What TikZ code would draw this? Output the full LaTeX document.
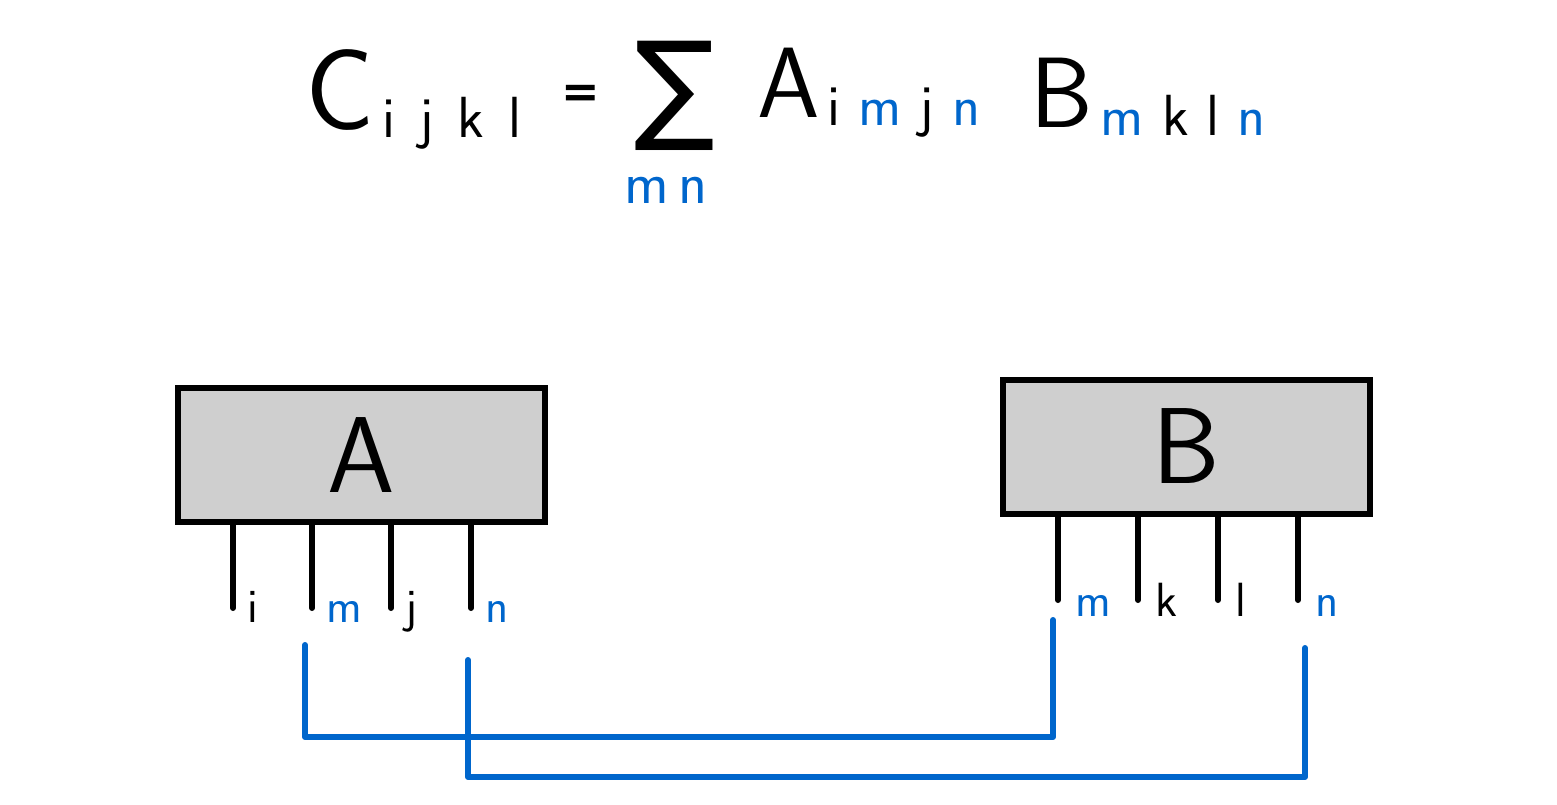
\documentclass[tikz,border=0pt]{standalone}
\usepackage{fontspec}
\newfontfamily\symbolfont{DejaVu Sans}
\usetikzlibrary{positioning}
\definecolor{wireblue}{HTML}{0066CC}
\definecolor{boxgray}{HTML}{CFCFCF}
\newcommand{\idxgap}{\hspace{18pt}}
\newcommand{\subidx}[1]{\raisebox{-8pt}{\fontsize{58}{58}\selectfont\hspace{8pt}#1}}
\newcommand{\blueidx}[1]{\textcolor{wireblue}{#1}}
\tikzset{tensorbox/.style={draw=black,fill=boxgray,line width=6pt,minimum width=367pt,minimum height=134pt,font=\fontsize{108}{110}\selectfont\sffamily},leg/.style={draw=black,line width=6pt,line cap=round},wire/.style={draw=wireblue,line width=6pt,line cap=round,line join=round},idxlabel/.style={font=\fontsize{48}{50}\selectfont\sffamily,inner sep=0pt,anchor=base west},formula/.style={font=\fontsize{100}{110}\selectfont\sffamily,inner sep=0pt,anchor=base west}}

\begin{document}
\begin{tikzpicture}[x=1pt,y=-1pt]
\useasboundingbox (0,0) rectangle (1557,805);
% equation
\node[formula,font=\fontsize{115}{120}\selectfont\sffamily] (lhs) at (305,130) {C\subidx{i\hspace{24pt}j\hspace{24pt}k\hspace{24pt}l}};
\node[formula,font=\fontsize{46}{46}\selectfont\symbolfont\bfseries,anchor=center] (eqsign) at (581,96) {=};
\node[formula,font=\fontsize{120}{120}\selectfont\symbolfont,anchor=center] (sumsign) at (675,96) {∑};
\node[idxlabel,font=\fontsize{60}{60}\selectfont\sffamily,text=wireblue,anchor=center] (sumidx) at (666,190) {m\hspace{10pt}n};
\node[formula] (termA) at (757,118) {A\subidx{i\idxgap\blueidx{m}\idxgap j\idxgap\blueidx{n}}};
\node[formula] (termB) at (1030,128) {B\subidx{\blueidx{m}\idxgap k\idxgap l\idxgap\blueidx{n}}};
% tensors
\node[tensorbox] (boxA) at (361.5,455) {A};
\node[tensorbox] (boxB) at (1186.5,446.5) {B};
\foreach \x/\n/\col in {233/i/black,312/m/wireblue,391/j/black,471/n/wireblue}{
\coordinate (A-\n) at (\x,608);
\draw[leg] (A-\n |- boxA.south) -- (A-\n);
\node[idxlabel,text=\col] (lA-\n) at ([shift={(14,14)}]A-\n) {\n};}
\foreach \x/\n/\col in {1058/m/wireblue,1138/k/black,1218/l/black,1298/n/wireblue}{
\coordinate (B-\n) at (\x,600);
\draw[leg] (B-\n |- boxB.south) -- (B-\n);
\node[idxlabel,text=\col] (lB-\n) at ([shift={(17,16)}]B-\n) {\n};}
% contracted indices
\coordinate (wA-m) at (305,645);
\coordinate (wB-m) at (1053,620);
\draw[wire] (wA-m) -- ++(0,92) -| (wB-m);
\coordinate (wA-n) at (468,660);
\coordinate (wB-n) at (1305,648);
\draw[wire] (wA-n) -- ++(0,117) -| (wB-n);
\end{tikzpicture}
\end{document}
